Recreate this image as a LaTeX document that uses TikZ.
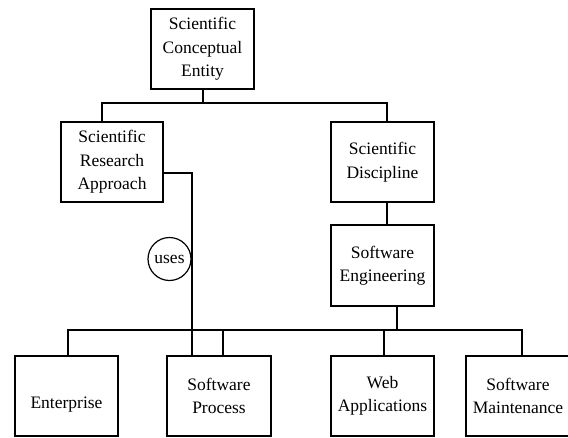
\documentclass[tikz,border=0pt]{standalone}
\usepackage{fontspec}
\setmainfont{Liberation Serif}
\begin{document}
\begin{tikzpicture}[x=1pt,y=-1pt,
  box/.style={draw,line width=1.3pt,minimum width=103pt,minimum height=80pt,
    inner sep=0pt,align=center,font=\fontsize{17.5}{23.5}\selectfont},
  rel/.style={draw,circle,line width=1.2pt,minimum size=43pt,inner sep=0pt,
    font=\fontsize{17.5}{23.5}\selectfont},
  link/.style={line width=1.3pt}]
\useasboundingbox (0,0) rectangle (568,437);
\clip (0,0) rectangle (568,437);

% concept boxes
\node[box] (top) at (202.5,49) {Scientific\\Conceptual\\Entity};
\node[box,minimum width=102pt] (sra) at (112,162) {Scientific\\Research\\Approach};
\node[box] (sd) at (382.5,162) {Scientific\\Discipline};
\node[box,minimum height=81pt] (se) at (382.5,265.5) {Software\\Engineering};
\node[box] (ent) at (66.5,396) {\raisebox{-12pt}[0pt][0pt]{Enterprise}};
\node[box,minimum width=104pt] (sp) at (219,396) {Software\\Process};
\node[box] (wa) at (382.5,396) {Web\\Applications};
\node[box,minimum width=104pt] (sm) at (518,396) {Software\\Maintenance};

% relation label
\node[rel] (uses) at (169.5,259) {uses};

% upper tree
\coordinate (busA) at (102,103);
\coordinate (busB) at (387,103);
\draw[link] (top.south -| 203,0) -- (203,103);
\draw[link] (busA |- sra.north) -- (busA) -- (busB) -- (busB |- sd.north);
\draw[link] (sd.south -| busB) -- (se.north -| busB);

% research approach to software process
\coordinate (k) at (192,173);
\draw[link] (sra.east |- k) -- (k) -- (k |- sp.north);

% lower tree
\coordinate (busL) at (68,330);
\coordinate (busR) at (522,330);
\draw[link] (se.south -| 397,0) -- (397,330);
\draw[link] (busL |- ent.north) -- (busL) -- (busR) -- (busR |- sm.north);
\draw[link] (223,330) -- (sp.north -| 223,0);
\draw[link] (384,330) -- (wa.north -| 384,0);
\end{tikzpicture}
\end{document}
